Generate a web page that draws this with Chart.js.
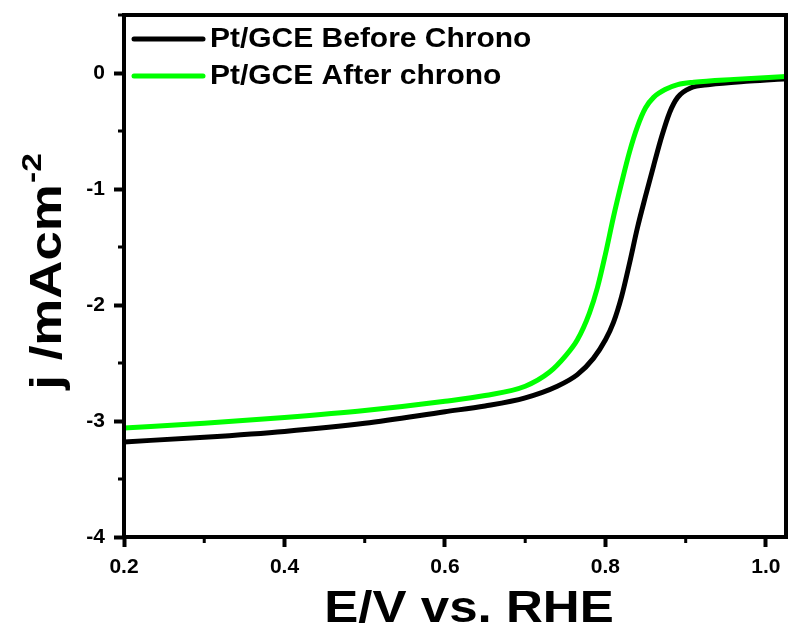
<!DOCTYPE html>
<html>
<head>
<meta charset="utf-8">
<script src="https://cdn.jsdelivr.net/npm/chart.js@4"></script>
<style>
html,body{margin:0;padding:0;background:#fff;}
#wrap{width:790px;height:630px;}
</style>
</head>
<body>
<div id="wrap"><canvas id="c" width="790" height="630"></canvas></div>
<script>
// ---- data ----
const beforeE = [0.2, 0.3, 0.4, 0.5, 0.6, 0.65, 0.7, 0.74, 0.765, 0.785, 0.80, 0.81, 0.82, 0.83, 0.84, 0.85, 0.86, 0.87, 0.88, 0.89, 0.906, 0.93, 0.98, 1.025];
const beforeJ = [-3.18, -3.14, -3.09, -3.02, -2.92, -2.87, -2.80, -2.70, -2.60, -2.46, -2.30, -2.15, -1.93, -1.64, -1.33, -1.06, -0.80, -0.55, -0.34, -0.21, -0.13, -0.10, -0.07, -0.05];
const afterE = [0.2, 0.3, 0.4, 0.5, 0.6, 0.65, 0.7, 0.73, 0.75, 0.765, 0.78, 0.79, 0.80, 0.81, 0.82, 0.83, 0.84, 0.85, 0.86, 0.875, 0.89, 0.91, 0.96, 1.025];
const afterJ = [-3.06, -3.02, -2.97, -2.91, -2.83, -2.78, -2.70, -2.58, -2.44, -2.30, -2.07, -1.85, -1.56, -1.24, -0.95, -0.68, -0.46, -0.30, -0.21, -0.14, -0.10, -0.08, -0.055, -0.03];
const seriesLabels = ['Pt/GCE Before Chrono', 'Pt/GCE After chrono'];
const xMajorTicks = [0.2, 0.4, 0.6, 0.8, 1.0];
const xMinorTicks = [0.3, 0.5, 0.7, 0.9];
const yMajorTicks = [-4, -3, -2, -1, 0];
const yMinorTicks = [-3.5, -2.5, -1.5, -0.5, 0.5];
const xTitle = 'E/V vs. RHE';
const yTitleMain = 'j /mAcm';
const yTitleSup = '-2';

const toPts = (xs, ys) => xs.map((x, i) => ({x: x, y: ys[i]}));
const FONT = '"Liberation Sans", Arial, sans-serif';

const decor = {
  id: 'decor',
  afterDraw(chart) {
    const ctx = chart.ctx, a = chart.chartArea;
    const xs = chart.scales.x, ys = chart.scales.y;
    ctx.save();
    // frame
    ctx.strokeStyle = '#000';
    ctx.lineWidth = 4;
    ctx.strokeRect(a.left, a.top, a.right - a.left, a.bottom - a.top);
    // minor ticks
    ctx.lineWidth = 3;
    ctx.beginPath();
    xMinorTicks.forEach(v => {
      const px = xs.getPixelForValue(v);
      ctx.moveTo(px, a.bottom); ctx.lineTo(px, a.bottom + 6);
    });
    yMinorTicks.forEach(v => {
      const py = ys.getPixelForValue(v);
      ctx.moveTo(a.left, py); ctx.lineTo(a.left - 6, py);
    });
    ctx.stroke();
    // x title (slightly stretched like the reference)
    ctx.fillStyle = '#000';
    ctx.save();
    ctx.translate(469, 622);
    ctx.scale(1.16, 1);
    ctx.font = 'bold 44px ' + FONT;
    ctx.textAlign = 'center';
    ctx.textBaseline = 'alphabetic';
    ctx.fillText(xTitle, 0, 0);
    ctx.restore();
    // y title (rotated) with superscript
    ctx.save();
    ctx.translate(61, 272);
    ctx.rotate(-Math.PI / 2);
    ctx.scale(1.2, 1);
    ctx.font = 'bold 44px ' + FONT;
    const w1 = ctx.measureText(yTitleMain).width;
    ctx.font = 'bold 28px ' + FONT;
    const w2 = ctx.measureText(yTitleSup).width;
    const start = -(w1 + w2) / 2;
    ctx.textAlign = 'left';
    ctx.font = 'bold 44px ' + FONT;
    ctx.fillText(yTitleMain, start, 0);
    ctx.font = 'bold 28px ' + FONT;
    ctx.fillText(yTitleSup, start + w1 + 1, -20);
    ctx.restore();
    // legend
    chart.data.datasets.forEach((ds, i) => {
      const ly = 39 + i * 37;
      ctx.strokeStyle = ds.borderColor;
      ctx.lineWidth = 5;
      ctx.lineCap = 'round';
      ctx.beginPath();
      ctx.moveTo(134, ly); ctx.lineTo(203, ly);
      ctx.stroke();
      ctx.save();
      ctx.translate(210, ly + 1);
      ctx.scale(1.11, 1);
      ctx.font = 'bold 27px ' + FONT;
      ctx.textAlign = 'left';
      ctx.textBaseline = 'middle';
      ctx.fillStyle = '#000';
      ctx.fillText(ds.label, 0, 0);
      ctx.restore();
    });
    ctx.restore();
  }
};

new Chart(document.getElementById('c'), {
  type: 'line',
  data: {
    datasets: [
      {label: seriesLabels[0], data: toPts(beforeE, beforeJ), borderColor: '#000000', borderWidth: 5, pointRadius: 0, cubicInterpolationMode: 'monotone', fill: false, order: 1},
      {label: seriesLabels[1], data: toPts(afterE, afterJ), borderColor: '#00ff00', borderWidth: 5, pointRadius: 0, cubicInterpolationMode: 'monotone', fill: false, order: 0}
    ]
  },
  options: {
    responsive: false,
    animation: false,
    devicePixelRatio: 1,
    layout: {padding: {top: 0, right: 4, left: 0, bottom: 0}},
    plugins: {legend: {display: false}, tooltip: {enabled: false}},
    scales: {
      x: {
        type: 'linear', min: 0.2, max: 1.025,
        afterBuildTicks: s => { s.ticks = xMajorTicks.map(v => ({value: v})); },
        afterFit: s => { s.height = 93; s.paddingLeft = 0; s.paddingRight = 0; },
        border: {display: false},
        grid: {drawOnChartArea: false, drawTicks: true, tickLength: 10, tickWidth: 4, tickColor: '#000'},
        ticks: {color: '#000', padding: 8, maxRotation: 0, font: {family: FONT, weight: 'bold', size: 21}, callback: v => v.toFixed(1)}
      },
      y: {
        type: 'linear', min: -4, max: 0.5,
        afterBuildTicks: s => { s.ticks = yMajorTicks.map(v => ({value: v})); },
        afterFit: s => { s.width = 124; s.paddingTop = 15; s.paddingBottom = 0; },
        border: {display: false},
        grid: {drawOnChartArea: false, drawTicks: true, tickLength: 10, tickWidth: 4, tickColor: '#000'},
        ticks: {color: '#000', padding: 9, font: {family: FONT, weight: 'bold', size: 21}, callback: v => String(v)}
      }
    }
  },
  plugins: [decor]
});
</script>
</body>
</html>
